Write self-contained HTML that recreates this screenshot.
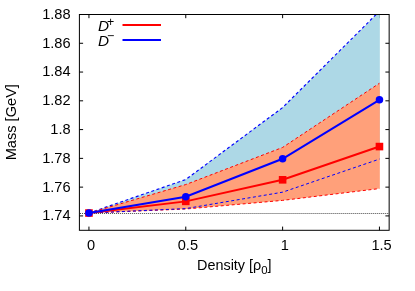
<!DOCTYPE html>
<html><head><meta charset="utf-8"><title>plot</title>
<style>html,body{margin:0;padding:0;background:#fff;}svg{display:block;will-change:transform;}</style></head>
<body>
<svg width="415" height="291" viewBox="0 0 415 291">
<rect width="415" height="291" fill="#fff"/>
<defs><clipPath id="c"><rect x="79.3" y="14.5" width="309.9" height="215.8"/></clipPath></defs>
<path d="M79.4 215.91h3.7M389.1 215.91h-3.7" stroke="#000" stroke-width="1" fill="none"/>
<path d="M79.4 187.14h3.7M389.1 187.14h-3.7" stroke="#000" stroke-width="1" fill="none"/>
<path d="M79.4 158.37h3.7M389.1 158.37h-3.7" stroke="#000" stroke-width="1" fill="none"/>
<path d="M79.4 129.59h3.7M389.1 129.59h-3.7" stroke="#000" stroke-width="1" fill="none"/>
<path d="M79.4 100.82h3.7M389.1 100.82h-3.7" stroke="#000" stroke-width="1" fill="none"/>
<path d="M79.4 72.05h3.7M389.1 72.05h-3.7" stroke="#000" stroke-width="1" fill="none"/>
<path d="M79.4 43.27h3.7M389.1 43.27h-3.7" stroke="#000" stroke-width="1" fill="none"/>
<path d="M79.4 14.50h3.7M389.1 14.50h-3.7" stroke="#000" stroke-width="1" fill="none"/>
<path d="M88.95 230.3v-3.7M88.95 14.5v3.7" stroke="#000" stroke-width="1" fill="none"/>
<path d="M185.78 230.3v-3.7M185.78 14.5v3.7" stroke="#000" stroke-width="1" fill="none"/>
<path d="M282.62 230.3v-3.7M282.62 14.5v3.7" stroke="#000" stroke-width="1" fill="none"/>
<path d="M379.45 230.3v-3.7M379.45 14.5v3.7" stroke="#000" stroke-width="1" fill="none"/>
<g clip-path="url(#c)">
<polygon points="88.95,213.04 185.78,179.52 282.62,107.58 379.85,11.19 379.85,159.09 282.62,192.18 185.78,208.58 88.95,213.04" fill="#add8e6"/>
<polyline points="88.95,213.04 185.78,179.52 282.62,107.58 379.45,11.19" fill="none" stroke="#0000ff" stroke-width="1.15" stroke-dasharray="3,2.5"/>
<polygon points="88.95,213.04 185.78,184.55 282.62,147.43 379.85,83.27 379.85,188.58 282.62,200.38 185.78,209.01 88.95,213.04" fill="#ffa07a"/>
<polyline points="88.95,213.04 185.78,184.55 282.62,147.43 379.45,83.27" fill="none" stroke="#ff0000" stroke-width="1" stroke-dasharray="3,2.5"/>
<polyline points="88.95,213.04 185.78,209.01 282.62,200.38 379.45,188.58" fill="none" stroke="#ff0000" stroke-width="1" stroke-dasharray="3,2.5"/>
<polyline points="88.95,213.04 185.78,208.58 282.62,192.18 379.45,159.09" fill="none" stroke="#0000ff" stroke-width="1" stroke-dasharray="3,2.5"/>
</g>
<line x1="80" x2="389.1" y1="213.5" y2="213.5" stroke="#4a4a4a" stroke-width="1" stroke-dasharray="1,0.995"/>
<polyline points="88.95,213.04 185.78,201.38 282.62,179.80 379.45,146.57" fill="none" stroke="#ff0000" stroke-width="2"/>
<rect x="85.15" y="209.24" width="7.6" height="7.6" fill="#ff0000"/>
<rect x="181.98" y="197.58" width="7.6" height="7.6" fill="#ff0000"/>
<rect x="278.82" y="176.00" width="7.6" height="7.6" fill="#ff0000"/>
<rect x="375.65" y="142.77" width="7.6" height="7.6" fill="#ff0000"/>
<polyline points="88.95,213.04 185.78,196.78 282.62,158.80 379.45,99.81" fill="none" stroke="#0000ff" stroke-width="2"/>
<circle cx="88.95" cy="213.04" r="3.75" fill="#0000ff"/>
<circle cx="185.78" cy="196.78" r="3.75" fill="#0000ff"/>
<circle cx="282.62" cy="158.80" r="3.75" fill="#0000ff"/>
<circle cx="379.45" cy="99.81" r="3.75" fill="#0000ff"/>
<rect x="79.40" y="14.50" width="309.75" height="215.80" fill="none" stroke="#000" stroke-width="1"/>
<text x="70.6" y="220.31" text-anchor="end" font-family="'Liberation Sans', sans-serif" font-size="14.6">1.74</text>
<text x="70.6" y="191.54" text-anchor="end" font-family="'Liberation Sans', sans-serif" font-size="14.6">1.76</text>
<text x="70.6" y="162.77" text-anchor="end" font-family="'Liberation Sans', sans-serif" font-size="14.6">1.78</text>
<text x="70.6" y="133.99" text-anchor="end" font-family="'Liberation Sans', sans-serif" font-size="14.6">1.8</text>
<text x="70.6" y="105.22" text-anchor="end" font-family="'Liberation Sans', sans-serif" font-size="14.6">1.82</text>
<text x="70.6" y="76.45" text-anchor="end" font-family="'Liberation Sans', sans-serif" font-size="14.6">1.84</text>
<text x="70.6" y="47.67" text-anchor="end" font-family="'Liberation Sans', sans-serif" font-size="14.6">1.86</text>
<text x="70.6" y="18.90" text-anchor="end" font-family="'Liberation Sans', sans-serif" font-size="14.6">1.88</text>
<text x="91.05" y="249.7" text-anchor="middle" font-family="'Liberation Sans', sans-serif" font-size="14.6">0</text>
<text x="187.88" y="249.7" text-anchor="middle" font-family="'Liberation Sans', sans-serif" font-size="14.6">0.5</text>
<text x="284.72" y="249.7" text-anchor="middle" font-family="'Liberation Sans', sans-serif" font-size="14.6">1</text>
<text x="381.55" y="249.7" text-anchor="middle" font-family="'Liberation Sans', sans-serif" font-size="14.6">1.5</text>
<text x="234.3" y="270" text-anchor="middle" font-family="'Liberation Sans', sans-serif" font-size="14.4">Density [ρ<tspan dy="3.5" font-size="11.4">0</tspan><tspan dy="-3.5">]</tspan></text>
<text transform="translate(16.2,122.2) rotate(-90)" text-anchor="middle" font-family="'Liberation Sans', sans-serif" font-size="14.6">Mass [GeV]</text>
<text x="98.0" y="31.2" font-style="italic" font-family="'Liberation Sans', sans-serif" font-size="15.3">D</text>
<text x="110.5" y="25.7" text-anchor="middle" font-family="'Liberation Sans', sans-serif" font-size="12.4">+</text>
<text x="98.0" y="45.7" font-style="italic" font-family="'Liberation Sans', sans-serif" font-size="15.3">D</text>
<text x="110.7" y="39.6" text-anchor="middle" font-family="'Liberation Sans', sans-serif" font-size="12.4">−</text>
<line x1="122.5" x2="161" y1="25" y2="25" stroke="#ff0000" stroke-width="2"/>
<line x1="122.5" x2="161" y1="40" y2="40" stroke="#0000ff" stroke-width="2"/>
</svg>
</body></html>
